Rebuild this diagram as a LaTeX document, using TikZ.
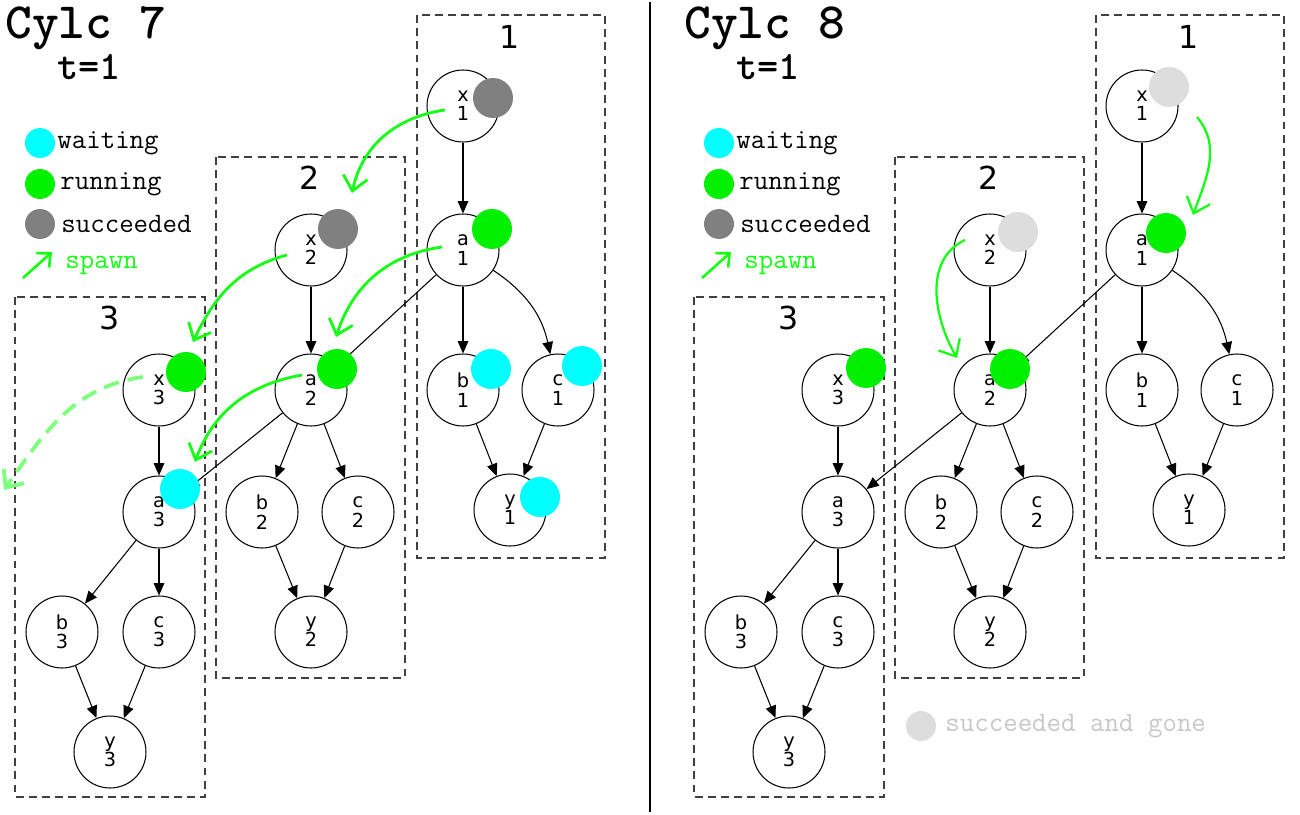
\documentclass[tikz,border=0pt]{standalone}
\usepackage{fontspec}
\setmainfont{DejaVu Sans}
\usetikzlibrary{positioning}
\usetikzlibrary{arrows.meta}
\definecolor{waitc}{RGB}{0,255,255}
\definecolor{runc}{RGB}{0,240,0}
\definecolor{succc}{RGB}{128,128,128}
\definecolor{gonec}{RGB}{221,221,221}
\definecolor{spawnc}{RGB}{20,255,20}
\tikzset{
	job/.style = {circle, draw, line width=0.6pt, minimum size=1.44cm, inner sep=0pt, align=center, font=\fontsize{11}{11}\selectfont},
	dot/.style = {circle, minimum size=0.8cm, inner sep=0pt},
	keydot/.style = {circle, minimum size=0.6cm, inner sep=0pt},
	edge/.style = {line width=0.6pt, -{Triangle[length=7pt, width=6pt]}},
	cyclebox/.style = {draw=black!75, line width=0.7pt, dash pattern=on 4.5pt off 3pt},
	boxlabel/.style = {font=\fontsize{18}{18}\selectfont},
	legend/.style = {anchor=west, inner sep=0pt, font=\ttfamily\fontsize{16}{16}\selectfont},
	spawn/.style = {draw=spawnc, line width=1.6pt, -{Straight Barb[length=8pt, width=14pt]}}
}

\begin{document}
\begin{tikzpicture}[x=0.02cm, y=-0.02cm]
	\useasboundingbox (0,0) rectangle (1300,814);
	% separator
	\draw[line width=1.6pt] (650,2) -- (650,812);
	\foreach \p/\dx/\ver in {l/0/7, r/679/8}{
		% title and legend
		\node[anchor=base west, inner sep=0pt, font=\ttfamily\bfseries\fontsize{29}{29}\selectfont] (\p-title) at (\dx+5,39) {Cylc \ver};
		\node[anchor=base, inner sep=0pt, font=\ttfamily\bfseries\fontsize{23}{23}\selectfont] (\p-time) at (\dx+89,80) {t=1};
		\node[keydot, fill=waitc] (\p-lwait) at (\dx+40,143) {};
		\node[keydot, fill=runc] (\p-lrun) at (\dx+40,184) {};
		\node[keydot, fill=succc] (\p-lsucc) at (\dx+40,224) {};
		\node[legend] at (\dx+57,143) {waiting};
		\node[legend] at (\dx+60,184) {running};
		\node[legend] at (\dx+61,224) {succeeded};
		\coordinate (\p-lsp1) at (\dx+23,278);
		\coordinate (\p-lsp2) at (\dx+52,252);
		\draw[spawn, line width=1.5pt, -{Straight Barb[length=6pt, width=11pt]}] (\p-lsp1) -- (\p-lsp2);
		\node[legend, text=spawnc] at (\dx+65,265) {spawn};
		% cycle boxes
		\draw[cyclebox] (\dx+417,15) rectangle (\dx+605,558);
		\draw[cyclebox] (\dx+216,157) rectangle (\dx+405,678);
		\draw[cyclebox] (\dx+15,297) rectangle (\dx+205,797);
		\node[boxlabel] (\p-box1) at (\dx+510,37) {1};
		\node[boxlabel] (\p-box2) at (\dx+310,178) {2};
		\node[boxlabel] (\p-box3) at (\dx+110,318) {3};
		% cycle 1
		\node[job] (\p-x1) at (\dx+463,106) {x\\1};
		\node[job] (\p-a1) at (\dx+463,250) {a\\1};
		\node[job] (\p-b1) at (\dx+463,390) {b\\1};
		\node[job] (\p-c1) at (\dx+558,390) {c\\1};
		\node[job] (\p-y1) at (\dx+510,510) {y\\1};
		% cycle 2
		\node[job] (\p-x2) at (\dx+311,250) {x\\2};
		\node[job] (\p-a2) at (\dx+311,390) {a\\2};
		\node[job] (\p-b2) at (\dx+262,512) {b\\2};
		\node[job] (\p-c2) at (\dx+358,512) {c\\2};
		\node[job] (\p-y2) at (\dx+311,632) {y\\2};
		% cycle 3
		\node[job] (\p-x3) at (\dx+159,390) {x\\3};
		\node[job] (\p-a3) at (\dx+159,512) {a\\3};
		\node[job] (\p-b3) at (\dx+62,632) {b\\3};
		\node[job] (\p-c3) at (\dx+159,632) {c\\3};
		\node[job] (\p-y3) at (\dx+110,752) {y\\3};
		% dependencies
		\draw[edge] (\p-x1) -- (\p-a1);
		\draw[edge] (\p-a1) -- (\p-b1);
		\draw[edge] (\p-a1) to[bend left=22] (\p-c1);
		\draw[edge] (\p-b1) -- (\p-y1);
		\draw[edge] (\p-c1) -- (\p-y1);
		\draw[edge] (\p-x2) -- (\p-a2);
		\draw[edge] (\p-a2) -- (\p-b2);
		\draw[edge] (\p-a2) -- (\p-c2);
		\draw[edge] (\p-b2) -- (\p-y2);
		\draw[edge] (\p-c2) -- (\p-y2);
		\draw[edge] (\p-x3) -- (\p-a3);
		\draw[edge] (\p-a3) -- (\p-b3);
		\draw[edge] (\p-a3) -- (\p-c3);
		\draw[edge] (\p-b3) -- (\p-y3);
		\draw[edge] (\p-c3) -- (\p-y3);
		\draw[edge] (\p-a1) -- (\p-a2);
		\draw[edge] (\p-a2) -- (\p-a3);
	}
	% states, Cylc 7
	\node[dot, fill=succc] (l-x1s) at (493,98) {};
	\node[dot, fill=runc] (l-a1s) at (492,229) {};
	\node[dot, fill=waitc] (l-b1s) at (491,369) {};
	\node[dot, fill=waitc] (l-c1s) at (582,366) {};
	\node[dot, fill=waitc] (l-y1s) at (540,497) {};
	\node[dot, fill=succc] (l-x2s) at (338,229) {};
	\node[dot, fill=runc] (l-a2s) at (337,369) {};
	\node[dot, fill=runc] (l-x3s) at (186,372) {};
	\node[dot, fill=waitc] (l-a3s) at (180,489) {};
	% spawning, Cylc 7
	\coordinate (l-out) at (4,490);
	\draw[spawn] ([shift={(-18,4)}]l-x1.center) to[out=188, in=78] ([shift={(41,-57)}]l-x2.center);
	\draw[spawn] ([shift={(-21,-3)}]l-a1.center) to[out=188, in=72] ([shift={(25,-53)}]l-a2.center);
	\draw[spawn] ([shift={(-24,5)}]l-x2.center) to[out=195, in=65] ([shift={(34,-48)}]l-x3.center);
	\draw[spawn] ([shift={(-9,-15)}]l-a2.center) to[out=190, in=70] ([shift={(36,-50)}]l-a3.center);
	\draw[spawn, spawnc!55, dash pattern=on 9pt off 5pt, line width=2.2pt] ([shift={(-16,-13)}]l-x3.center) to[out=188, in=55] (l-out);
	% states, Cylc 8
	\node[dot, fill=gonec] (r-x1s) at (1169,87) {};
	\node[dot, fill=runc] (r-a1s) at (1166,233) {};
	\node[dot, fill=gonec] (r-x2s) at (1018,232) {};
	\node[dot, fill=runc] (r-a2s) at (1010,369) {};
	\node[dot, fill=runc] (r-x3s) at (866,368) {};
	\node[keydot, fill=gonec] (r-gone) at (921,726) {};
	\node[legend, text=black!22] at (945,726) {succeeded and gone};
	% spawning, Cylc 8
	\draw[spawn, line width=1.3pt] ([shift={(55,11)}]r-x1.center) to[out=-50, in=70] ([shift={(27,-18)}]r-a1s.center);
	\draw[spawn, line width=1.3pt] ([shift={(-25,-10)}]r-x2.center) to[out=205, in=120] ([shift={(-33,-32)}]r-a2.center);
\end{tikzpicture}
\end{document}
